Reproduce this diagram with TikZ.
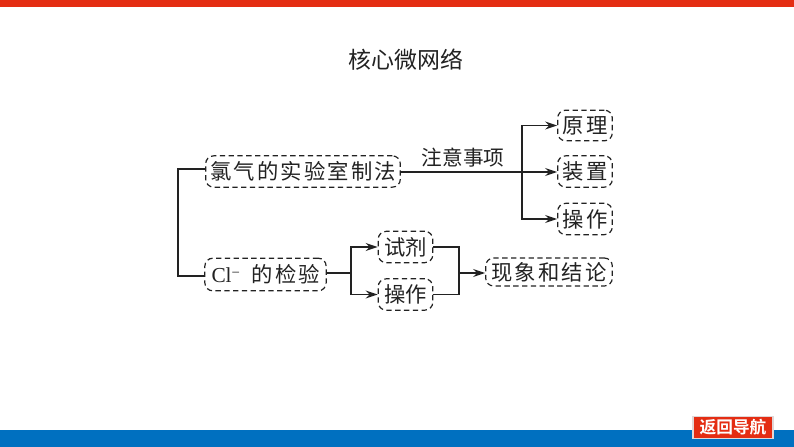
\documentclass[tikz,border=0pt]{standalone}
\usepackage{fontspec}
\setmainfont{Liberation Serif}
\newfontfamily\cjk{Noto Sans CJK SC}
\newfontfamily\cjkb{Noto Sans CJK SC Bold}
\usetikzlibrary{arrows.meta}
\definecolor{topred}{HTML}{E42D13}
\definecolor{botblue}{HTML}{0070C0}
\definecolor{ink}{HTML}{222222}
\newcommand{\spaced}[2]{\makebox[\dimexpr #1pt*3/4\relax][s]{#2}}
\tikzset{
  x=0.75pt,y=-0.75pt,
  dbox/.style={draw=ink,line width=0.9pt,dash pattern=on 4pt off 2.6pt,rounded corners=6pt,inner sep=0pt,font=\cjk\fontsize{16}{16}\selectfont,text=ink},
  conn/.style={draw=ink,line width=1.1pt},
  arr/.style={conn,-{Stealth[length=9pt,width=6pt,inset=3pt]}},
  plain/.style={inner sep=0pt,text=ink}
}
\begin{document}
\begin{tikzpicture}
\useasboundingbox (0,0) rectangle (794,447);
\fill[white] (0,0) rectangle (794,447);
\fill[topred] (0,0) rectangle (794,7);
\fill[botblue] (0,430) rectangle (794,447);
\node[draw={rgb,255:red,225;green,215;blue,215},line width=0.8pt,fill=topred,minimum width=60pt,minimum height=17pt,inner sep=0pt,text=white,font=\cjkb\fontsize{12.5}{13}\selectfont] (nav) at (733,427.5) {返回导航};
\node[plain,font=\cjk\fontsize{17.2}{17}\selectfont] (title) at (406,60) {核心微网络};
\node[dbox,minimum width=146pt,minimum height=23.5pt] (zhi) at (303,171.5) {\spaced{186}{氯\hfill{}气\hfill{}的\hfill{}实\hfill{}验\hfill{}室\hfill{}制\hfill{}法}};
\node[dbox,minimum width=91pt,minimum height=24.5pt] (cl) at (265.5,274.5) {\spaced{108}{{\rmfamily Cl\raisebox{0.5ex}{\fontsize{11}{11}\selectfont −}}\hspace{9pt}的\hfill{}检\hfill{}验}};
\node[dbox,minimum width=41pt,minimum height=23.5pt] (shi) at (405.5,247) {\spaced{42}{试剂}};
\node[dbox,minimum width=41pt,minimum height=23.5pt] (cao) at (405.5,294.5) {\spaced{42}{操作}};
\node[dbox,minimum width=41pt,minimum height=23pt] (yuan) at (585,125.5) {\spaced{46}{原\hfill{}理}};
\node[dbox,minimum width=41pt,minimum height=23.5pt] (zhuang) at (585,171.5) {\spaced{46}{装\hfill{}置}};
\node[dbox,minimum width=41pt,minimum height=23.5pt] (cao2) at (585,219) {\spaced{46}{操\hfill{}作}};
\node[dbox,minimum width=95pt,minimum height=21pt] (res) at (549,272) {\spaced{116}{现\hfill{}象\hfill{}和\hfill{}结\hfill{}论}};
\node[plain,font=\cjk\fontsize{15.5}{15}\selectfont] (note) at (463,158) {注意事项};
\coordinate (bus) at (178,200);
\coordinate (zl) at (zhi.west |- 0,169);
\coordinate (cll) at (cl.west |- 0,276);
\coordinate (jr) at (522,172);
\coordinate (js) at (351,273);
\coordinate (je) at (459,273);
\draw[conn] (zl) -- (bus |- zl) -- (bus |- cll) -- (cll);
\draw[arr] (zhi.east |- jr) -- (zhuang.west |- jr);
\draw[arr] (jr) |- (yuan.west);
\draw[arr] (jr) |- (cao2.west);
\draw[conn] (cl.east |- js) -- (js);
\draw[arr] (js) |- (shi.west);
\draw[arr] (js) |- (cao.west);
\draw[conn] (shi.east) -| (je);
\draw[conn] (cao.east) -| (je);
\draw[arr] (je) -- (res.west |- je);
\end{tikzpicture}
\end{document}
